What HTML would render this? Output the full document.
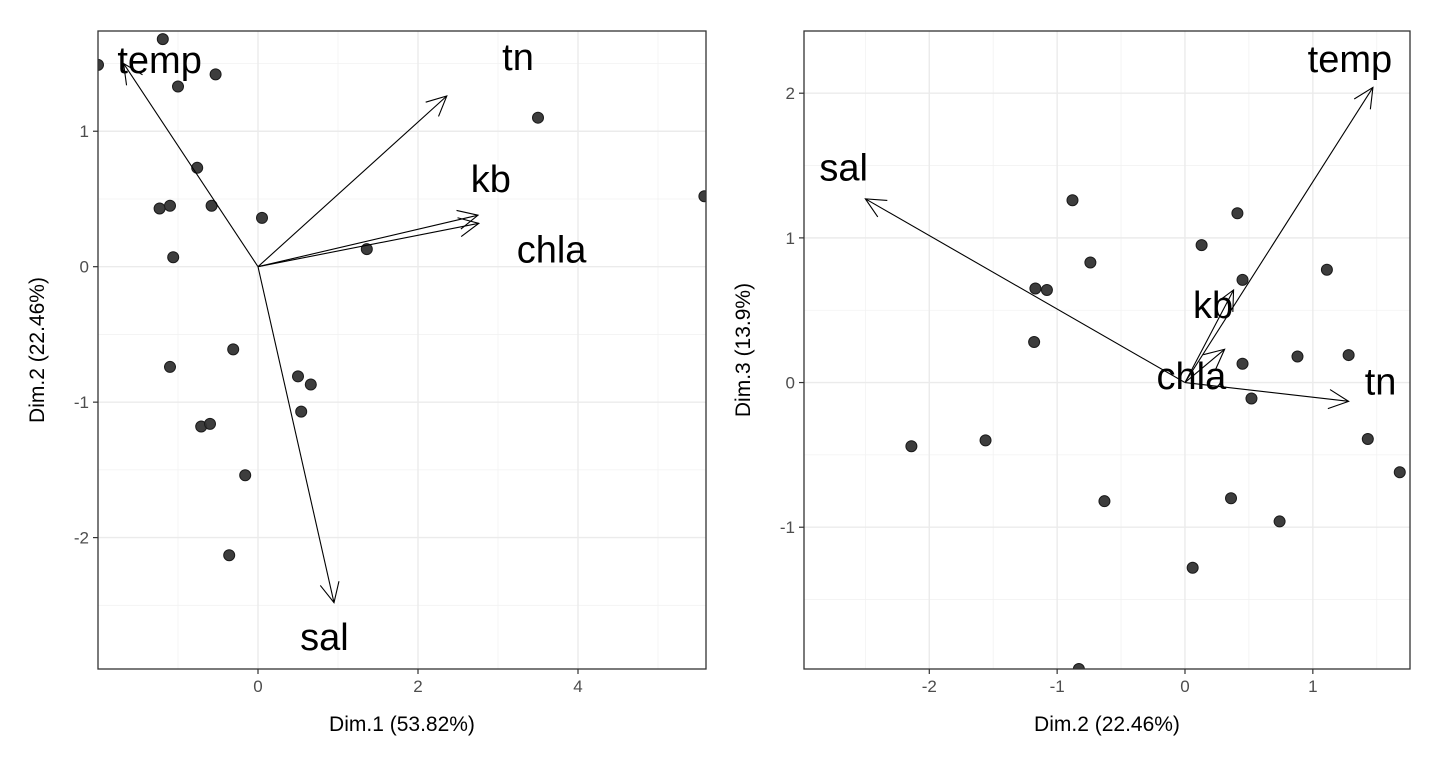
<!DOCTYPE html>
<html><head><meta charset="utf-8"><style>
html,body{margin:0;padding:0;background:#fff;}
svg{display:block;font-family:"Liberation Sans",sans-serif;}
</style></head><body>
<svg id="c" width="1440" height="768"></svg>
<script>
// ---- Left panel data (Dim.1 vs Dim.2)
const leftPtsX=[-2.0,-1.19,-1.0,-0.53,-0.76,-1.23,-1.1,-0.58,0.05,-1.06,1.36,3.5,5.58,-1.1,-0.31,0.5,0.66,0.54,-0.71,-0.6,-0.16,-0.36];
const leftPtsY=[1.49,1.68,1.33,1.42,0.73,0.43,0.45,0.45,0.36,0.07,0.13,1.10,0.52,-0.74,-0.61,-0.81,-0.87,-1.07,-1.18,-1.16,-1.54,-2.13];
const leftVars=["temp","tn","kb","chla","sal"];
const leftVecX=[-1.68,2.36,2.75,2.76,0.95];
const leftVecY=[1.50,1.26,0.38,0.32,-2.48];
const leftLabX=[-1.23,3.25,2.91,3.67,0.83];
const leftLabY=[1.52,1.54,0.64,0.12,-2.74];
const leftXTicks=[0,2,4];
const leftYTicks=[-2,-1,0,1];
// ---- Right panel data (Dim.2 vs Dim.3)
const rightPtsX=[-0.88,0.13,0.41,-0.74,-1.17,-1.08,0.45,1.11,-1.18,0.88,1.28,0.45,0.52,1.43,1.68,-2.14,-1.56,-0.63,0.36,0.74,0.06,-0.83];
const rightPtsY=[1.26,0.95,1.17,0.83,0.65,0.64,0.71,0.78,0.28,0.18,0.19,0.13,-0.11,-0.39,-0.62,-0.44,-0.40,-0.82,-0.80,-0.96,-1.28,-1.98];
const rightVars=["temp","sal","tn","kb","chla"];
const rightVecX=[1.47,-2.5,1.28,0.38,0.31];
const rightVecY=[2.04,1.27,-0.13,0.64,0.23];
const rightLabX=[1.29,-2.67,1.53,0.22,0.05];
const rightLabY=[2.23,1.48,0.0,0.53,0.04];
const rightXTicks=[-2,-1,0,1];
const rightYTicks=[-1,0,1,2];

const NS="http://www.w3.org/2000/svg";
const svg=document.getElementById('c');
function mk(tag,attrs,parent){const e=document.createElementNS(NS,tag);for(const k in attrs)e.setAttribute(k,attrs[k]);(parent||svg).appendChild(e);return e;}

function panel(cfg){
  const {x0,x1,y0,y1,xmin,xmax,ymin,ymax,px,py,vx,vy,vars,lx,ly,xt,yt,xlab,ylab,id}=cfg;
  const sx=v=>x0+(v-xmin)/(xmax-xmin)*(x1-x0);
  const sy=v=>y1-(v-ymin)/(ymax-ymin)*(y1-y0);
  const g=mk('g',{});
  
  
  mk('defs',{},g).innerHTML='<clipPath id="clip-'+id+'"><rect x="'+x0+'" y="'+y0+'" width="'+(x1-x0)+'" height="'+(y1-y0)+'"/></clipPath>';
  const grid=mk('g',{},g);
  
  
  const minorX=[],minorY=[];
  for(let i=0;i<xt.length-1;i++)minorX.push((xt[i]+xt[i+1])/2);
  minorX.push(xt[0]-(xt[1]-xt[0])/2,xt[xt.length-1]+(xt[1]-xt[0])/2);
  for(let i=0;i<yt.length-1;i++)minorY.push((yt[i]+yt[i+1])/2);
  minorY.push(yt[0]-(yt[1]-yt[0])/2,yt[yt.length-1]+(yt[1]-yt[0])/2);
  minorX.forEach(v=>{if(v>xmin&&v<xmax)mk('line',{x1:sx(v),x2:sx(v),y1:y0,y2:y1,stroke:'#f2f2f2','stroke-width':0.8},grid);});
  minorY.forEach(v=>{if(v>ymin&&v<ymax)mk('line',{x1:x0,x2:x1,y1:sy(v),y2:sy(v),stroke:'#f2f2f2','stroke-width':0.8},grid);});
  xt.forEach(v=>mk('line',{x1:sx(v),x2:sx(v),y1:y0,y2:y1,stroke:'#ebebeb','stroke-width':1.4},grid));
  yt.forEach(v=>mk('line',{x1:x0,x2:x1,y1:sy(v),y2:sy(v),stroke:'#ebebeb','stroke-width':1.4},grid));
  const cg=mk('g',{'clip-path':'url(#clip-'+id+')'},g);
  px.forEach((v,i)=>{
    const c=mk('circle',{cx:sx(v),cy:sy(py[i]),r:5.5,fill:'#333',stroke:'#1a1a1a','stroke-width':1,'fill-opacity':0.95},cg);
    
    
  });
  const ox=sx(0),oy=sy(0);
  vars.forEach((n,i)=>{
    const ex=sx(vx[i]),ey=sy(vy[i]);
    const a=Math.atan2(ey-oy,ex-ox),L=22,w=0.45;
    const ag=mk('g',{},cg);
    
    
    mk('line',{x1:ox,y1:oy,x2:ex,y2:ey,stroke:'#000','stroke-width':1.1},ag);
    mk('polyline',{points:(ex-L*Math.cos(a-w))+','+(ey-L*Math.sin(a-w))+' '+ex+','+ey+' '+(ex-L*Math.cos(a+w))+','+(ey-L*Math.sin(a+w)),fill:'none',stroke:'#000','stroke-width':1.1},ag);
    const t=mk('text',{x:sx(lx[i]),y:sy(ly[i]),'text-anchor':'middle','dominant-baseline':'central','font-size':38,fill:'#000'},cg);
    t.textContent=n;
    
    
  });
  const b=mk('rect',{x:x0,y:y0,width:x1-x0,height:y1-y0,fill:'none',stroke:'#333','stroke-width':1.3},g);
  
  
  xt.forEach(v=>{
    mk('line',{x1:sx(v),x2:sx(v),y1:y1,y2:y1+5,stroke:'#333','stroke-width':1.2},g);
    const t=mk('text',{x:sx(v),y:y1+23,'text-anchor':'middle','font-size':17,fill:'#4d4d4d'},g);
    t.textContent=v;
    
    
  });
  yt.forEach(v=>{
    mk('line',{x1:x0-5,x2:x0,y1:sy(v),y2:sy(v),stroke:'#333','stroke-width':1.2},g);
    const t=mk('text',{x:x0-9,y:sy(v)+6,'text-anchor':'end','font-size':17,fill:'#4d4d4d'},g);
    t.textContent=v;
    
    
  });
  const xtl=mk('text',{x:(x0+x1)/2,y:y1+62,'text-anchor':'middle','font-size':21,fill:'#000'},g);
  xtl.textContent=xlab;
  
  
  const cy=(y0+y1)/2,cx=x0-54;
  const ytl=mk('text',{x:cx,y:cy,'text-anchor':'middle','font-size':21,fill:'#000',transform:'rotate(-90 '+cx+' '+cy+')'},g);
  ytl.textContent=ylab;
  
  
}

panel({id:'left',x0:98,x1:706,y0:31,y1:669,xmin:-2.0,xmax:5.6,ymin:-2.97,ymax:1.74,
  px:leftPtsX,py:leftPtsY,vx:leftVecX,vy:leftVecY,vars:leftVars,lx:leftLabX,ly:leftLabY,
  xt:leftXTicks,yt:leftYTicks,xlab:'Dim.1 (53.82%)',ylab:'Dim.2 (22.46%)'});
panel({id:'right',x0:804,x1:1410,y0:31,y1:669,xmin:-2.98,xmax:1.76,ymin:-1.98,ymax:2.43,
  px:rightPtsX,py:rightPtsY,vx:rightVecX,vy:rightVecY,vars:rightVars,lx:rightLabX,ly:rightLabY,
  xt:rightXTicks,yt:rightYTicks,xlab:'Dim.2 (22.46%)',ylab:'Dim.3 (13.9%)'});
</script>
</body></html>
